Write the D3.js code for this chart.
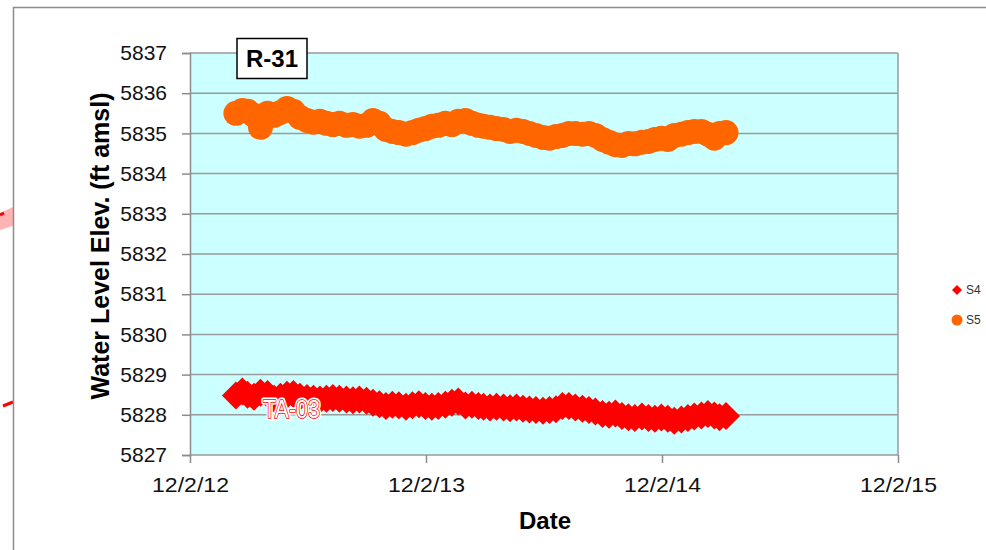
<!DOCTYPE html>
<html lang="en">

<head>
    <meta charset="UTF-8">
    <title>R-31 water level</title>
    <style>
        body {
            margin: 0;
            background: #fff;
        }

        #chart {
            width: 986px;
            height: 550px;
            font-family: "Liberation Sans", Arial, sans-serif;
        }

        .grid line {
            stroke: #9a9a9a;
            stroke-width: 1.5;
        }

        .axis text {
            font-size: 21px;
            fill: #111;
        }

        .axis line {
            stroke: #8c8c8c;
            stroke-width: 1.5;
        }

        .legend text {
            font-size: 12px;
            fill: #333;
        }
    </style>
    <script src="https://cdn.jsdelivr.net/npm/d3@7"></script>
</head>

<body>
    <div id="chart"></div>
    <script>
        // sample dates (about every 10 days)
        var dates = [
            "2013-02-11", "2013-02-21", "2013-03-01", "2013-03-11", "2013-03-21",
            "2013-04-01", "2013-04-11", "2013-04-21", "2013-05-01", "2013-05-11", "2013-05-21",
            "2013-06-01", "2013-06-11", "2013-06-21", "2013-07-01", "2013-07-11", "2013-07-21",
            "2013-08-01", "2013-08-11", "2013-08-21", "2013-09-01", "2013-09-11", "2013-09-21",
            "2013-10-01", "2013-10-11", "2013-10-21", "2013-11-01", "2013-11-11", "2013-11-21",
            "2013-12-01", "2013-12-11", "2013-12-21", "2014-01-01", "2014-01-11", "2014-01-21",
            "2014-02-01", "2014-02-11", "2014-02-21", "2014-03-01", "2014-03-11", "2014-03-21",
            "2014-04-01", "2014-04-11", "2014-04-21", "2014-05-01", "2014-05-11", "2014-05-21",
            "2014-06-01", "2014-06-11", "2014-06-21", "2014-07-01", "2014-07-11", "2014-07-21",
            "2014-08-01", "2014-08-11", "2014-08-21", "2014-09-01", "2014-09-11", "2014-09-21",
            "2014-10-01", "2014-10-11", "2014-10-21", "2014-11-01", "2014-11-11", "2014-11-21",
            "2014-12-01", "2014-12-11", "2014-12-21", "2015-01-01", "2015-01-11", "2015-01-21",
            "2015-02-01", "2015-02-11", "2015-02-21", "2015-03-01", "2015-03-11"
        ];

        // S4 (red diamonds)
        var s4Values = [
            5828.48, 5828.58, 5828.50, 5828.45, 5828.55,
            5828.52, 5828.40, 5828.45, 5828.50, 5828.52, 5828.45,
            5828.42, 5828.40, 5828.38, 5828.40, 5828.42, 5828.40,
            5828.38, 5828.36, 5828.38, 5828.35, 5828.30, 5828.26,
            5828.22, 5828.25, 5828.24, 5828.20, 5828.24, 5828.26,
            5828.22, 5828.20, 5828.22, 5828.25, 5828.30, 5828.33,
            5828.23, 5828.25, 5828.22, 5828.20, 5828.18, 5828.20,
            5828.18, 5828.16, 5828.18, 5828.15, 5828.13, 5828.12,
            5828.10, 5828.12, 5828.14, 5828.22, 5828.22, 5828.18,
            5828.15, 5828.12, 5828.08, 5828.02, 5828.00, 5828.03,
            5827.97, 5827.94, 5827.92, 5827.96, 5827.92, 5827.90,
            5827.93, 5827.90, 5827.85, 5827.88, 5827.92, 5827.96,
            5827.98, 5828.02, 5827.98, 5827.94, 5827.97
        ];

        // S5 (orange circles)
        var s5Values = [
            5835.50, 5835.57, 5835.55, 5835.45, 5835.15,
            5835.50, 5835.45, 5835.52, 5835.62, 5835.55, 5835.40,
            5835.32, 5835.28, 5835.30, 5835.25, 5835.22, 5835.25,
            5835.20, 5835.22, 5835.18, 5835.20, 5835.32, 5835.25,
            5835.10, 5835.05, 5835.02, 5834.98, 5835.02, 5835.08,
            5835.12, 5835.18, 5835.20, 5835.25, 5835.22, 5835.30,
            5835.32, 5835.25, 5835.20, 5835.18, 5835.15, 5835.12,
            5835.10, 5835.05, 5835.08, 5835.05, 5835.00, 5834.95,
            5834.90, 5834.88, 5834.92, 5834.95, 5835.00, 5835.00,
            5834.98, 5835.00, 5834.95, 5834.85, 5834.78, 5834.72,
            5834.70, 5834.75, 5834.74, 5834.78, 5834.80, 5834.85,
            5834.88, 5834.85, 5834.95, 5834.98, 5835.02, 5835.05,
            5835.05, 5834.98, 5834.88, 5835.00, 5835.02
        ];

        var yTicks = [5827, 5828, 5829, 5830, 5831, 5832, 5833, 5834, 5835, 5836, 5837];
        var xTickDates = ["2012-12-02", "2013-12-02", "2014-12-02", "2015-12-02"];
        var seriesNames = ["S4", "S5"];

        var parse = d3.timeParse("%Y-%m-%d");
        var plot = { left: 190, right: 898, top: 53, bottom: 455 };

        var svg = d3.select("#chart").append("svg")
            .attr("width", 986)
            .attr("height", 550);

        // bits of the neighbouring slide peeking in at the left edge
        svg.append("polygon")
            .attr("points", "0,213 13,207 13,226 0,230")
            .style("fill", "#ff9a9a")
            .style("opacity", 0.75);
        svg.append("line")
            .attr("x1", 0).attr("y1", 215).attr("x2", 4).attr("y2", 213)
            .style("stroke", "#f00").style("stroke-width", 3);
        svg.append("line")
            .attr("x1", 3).attr("y1", 406).attr("x2", 13).attr("y2", 402)
            .style("stroke", "#f00").style("stroke-width", 3);

        // chart frame
        svg.append("rect")
            .attr("x", 13.5).attr("y", 7.5)
            .attr("width", 1000).attr("height", 600)
            .style("fill", "#fff")
            .style("stroke", "#8c8c8c")
            .style("stroke-width", 1.5);

        var x = d3.scaleTime()
            .domain([parse(xTickDates[0]), parse(xTickDates[3])])
            .range([plot.left, plot.right]);
        var y = d3.scaleLinear()
            .domain([5827, 5837])
            .range([plot.bottom, plot.top]);

        svg.append("rect")
            .attr("x", plot.left).attr("y", plot.top)
            .attr("width", plot.right - plot.left)
            .attr("height", plot.bottom - plot.top)
            .style("fill", "#ccffff");

        // gridlines
        svg.append("g").attr("class", "grid")
            .selectAll("line")
            .data(yTicks)
            .enter().append("line")
            .attr("x1", plot.left).attr("x2", plot.right)
            .attr("y1", function (d) { return y(d); })
            .attr("y2", function (d) { return y(d); });

        svg.append("line")
            .attr("x1", plot.right).attr("x2", plot.right)
            .attr("y1", plot.top).attr("y2", plot.bottom)
            .style("stroke", "#9a9a9a").style("stroke-width", 1.5);

        // axes
        var yAxis = svg.append("g").attr("class", "axis")
            .attr("transform", "translate(" + plot.left + ",0)")
            .call(d3.axisLeft(y).tickValues(yTicks).tickSize(8).tickPadding(15).tickFormat(d3.format("d")));
        yAxis.select(".domain").style("stroke", "#8c8c8c").style("stroke-width", 1.5);

        var xAxis = svg.append("g").attr("class", "axis")
            .attr("transform", "translate(0," + plot.bottom + ")")
            .call(d3.axisBottom(x).tickValues(xTickDates.map(parse)).tickSize(8).tickPadding(14)
                .tickFormat(d3.timeFormat("%-m/%-d/%y")));
        xAxis.select(".domain").remove();
        xAxis.selectAll("text")
            .attr("textLength", 77)
            .attr("lengthAdjust", "spacingAndGlyphs");

        svg.append("text")
            .attr("transform", "translate(109," + 246 + ") rotate(-90)")
            .attr("text-anchor", "middle")
            .style("font-size", "25px")
            .style("font-weight", "bold")
            .text("Water Level Elev. (ft amsl)");

        svg.append("text")
            .attr("x", 545).attr("y", 529)
            .attr("text-anchor", "middle")
            .style("font-size", "24px")
            .style("font-weight", "bold")
            .text("Date");

        // series
        var pts = dates.map(function (d, i) {
            return { date: parse(d), s4: s4Values[i], s5: s5Values[i] };
        });

        svg.append("g").selectAll("circle")
            .data(pts)
            .enter().append("circle")
            .attr("cx", function (d) { return x(d.date); })
            .attr("cy", function (d) { return y(d.s5); })
            .attr("r", 12.5)
            .style("fill", "#ff6600");

        function diamond(cx, cy, r) {
            return "M" + cx + "," + (cy - r) + "L" + (cx + r) + "," + cy +
                "L" + cx + "," + (cy + r) + "L" + (cx - r) + "," + cy + "Z";
        }

        svg.append("g").selectAll("path")
            .data(pts)
            .enter().append("path")
            .attr("d", function (d) { return diamond(x(d.date), y(d.s4), 14); })
            .style("fill", "#ff0000");

        // well label: white halo, red outline, white fill
        [{ stroke: "#fff", w: 5 }, { stroke: "#f00", w: 1.6 }].forEach(function (s) {
            svg.append("text")
                .attr("x", 263).attr("y", 418)
                .attr("textLength", 57)
                .attr("lengthAdjust", "spacingAndGlyphs")
                .style("font-size", "25px")
                .style("fill", "#fff")
                .style("stroke", s.stroke)
                .style("stroke-width", s.w)
                .style("stroke-linejoin", "round")
                .style("paint-order", "stroke")
                .text("TA-03");
        });

        // title box
        svg.append("rect")
            .attr("x", 237).attr("y", 38.5)
            .attr("width", 70).attr("height", 40)
            .style("fill", "#fff")
            .style("stroke", "#000")
            .style("stroke-width", 1.5);
        svg.append("text")
            .attr("x", 272).attr("y", 67)
            .attr("text-anchor", "middle")
            .style("font-size", "24px")
            .style("font-weight", "bold")
            .text("R-31");

        // legend
        var legend = svg.append("g").attr("class", "legend")
            .attr("transform", "translate(957,290)");
        legend.append("path")
            .attr("d", diamond(0, 0, 5))
            .style("fill", "#ff0000");
        legend.append("circle")
            .attr("cx", 0).attr("cy", 30).attr("r", 5.5)
            .style("fill", "#ff6600");
        legend.selectAll("text")
            .data(seriesNames)
            .enter().append("text")
            .attr("x", 9)
            .attr("y", function (d, i) { return i * 30; })
            .attr("dy", "0.35em")
            .text(function (d) { return d; });
    </script>
</body>

</html>
